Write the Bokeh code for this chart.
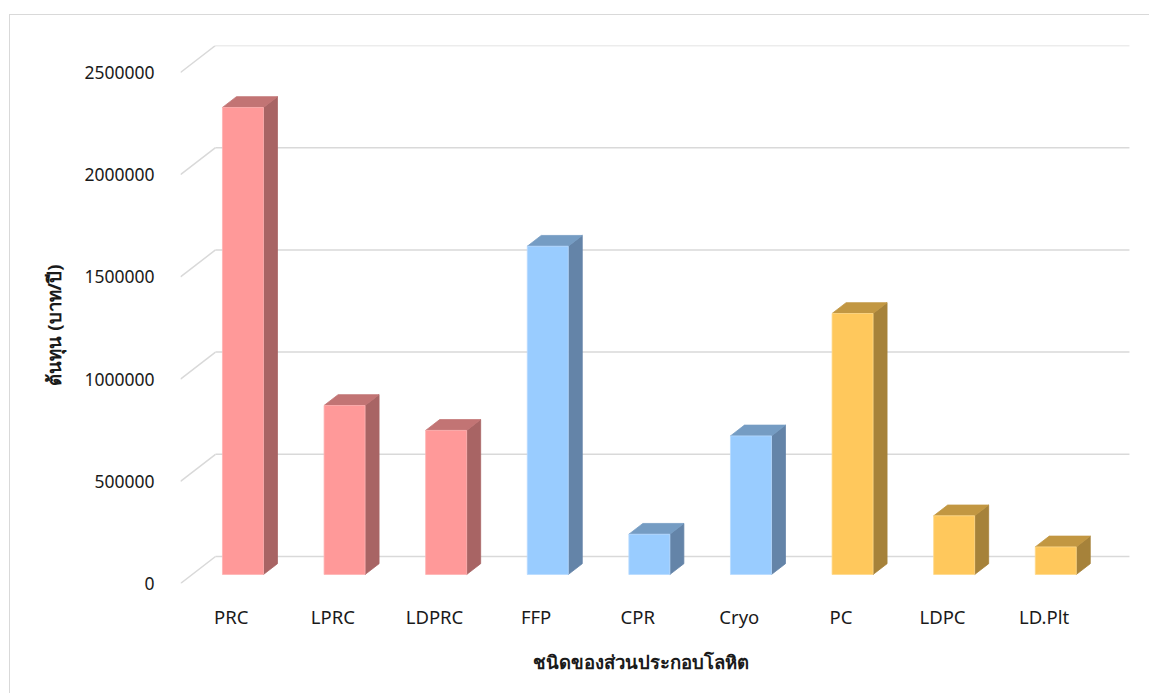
from bokeh.plotting import figure
from bokeh.models import Range1d, FixedTicker, Title
from bokeh.embed import file_html
from bokeh.resources import INLINE

# ---- data ----
categories = ["PRC", "LPRC", "LDPRC", "FFP", "CPR", "Cryo", "PC", "LDPC", "LD.Plt"]
costs = [2285000, 827000, 705000, 1606000, 197000, 678000, 1277000, 287000, 135000]
groups = ["red", "red", "red", "blue", "blue", "blue", "yellow", "yellow", "yellow"]
y_ticks = [0, 500000, 1000000, 1500000, 2000000, 2500000]
y_title = "ต้นทุน (บาท/ปี)"
x_title = "ชนิดของส่วนประกอบโลหิต"

# ---- style ----
palette = {
    "red": ("#FF9999", "#A86464", "#C27474"),
    "blue": ("#99CCFF", "#6484A8", "#759CC3"),
    "yellow": ("#FFC85C", "#A6823A", "#C29742"),
}
edge = {"red": "#FFB3B3", "blue": "#B8DBFF", "yellow": "#FFD98A"}
grid_color = "#D9D9D9"
FONT = "Noto Sans"

# geometry in data units (x: category units, y: value units)
px_x = 101.6
px_y = 511 / 2500000
DX = 35 / px_x          # full floor depth, x
DY = 27 / px_y          # full floor depth, y
W = 41 / px_x           # bar width
D0 = 1 / 3              # bar front depth fraction
DD = 0.4                # bar depth fraction

n = len(categories)
p = figure(width=1139, height=678, output_backend="svg", toolbar_location=None,
           x_range=Range1d(0, 949 / px_x), y_range=Range1d(0, 2500000 + DY),
           min_border_left=170, min_border_right=20, min_border_top=30, min_border_bottom=110)
p.styles = {"margin-left": "10px", "margin-top": "15px", "outline": "1.5px solid #D9D9D9"}
p.outline_line_color = None
p.xgrid.visible = False
p.ygrid.visible = False
p.background_fill_color = "white"
p.border_fill_color = "white"

# gridlines: diagonal + back wall
gx0, gy0, gx1, gy1 = [], [], [], []
for t in y_ticks:
    gx0 += [0, DX]
    gy0 += [t, t + DY]
    gx1 += [DX, n + DX]
    gy1 += [t + DY, t + DY]
p.segment(gx0, gy0, gx1, gy1, line_color=grid_color, line_width=1.5)

# bars
fx, fy, fc, fl = [], [], [], []
for i, (v, g) in enumerate(zip(costs, groups)):
    xc = i + 0.5 + D0 * DX
    yb = D0 * DY
    l, r = xc - W / 2, xc + W / 2
    ddx, ddy = DD * DX, DD * DY
    front, side, top = palette[g]
    fx.append([r, r + ddx, r + ddx, r]); fy.append([yb, yb + ddy, yb + ddy + v, yb + v]); fc.append(side); fl.append(side)
    fx.append([l, r, r + ddx, l + ddx]); fy.append([yb + v, yb + v, yb + v + ddy, yb + v + ddy]); fc.append(top); fl.append(top)
    fx.append([l, r, r, l]); fy.append([yb, yb, yb + v, yb + v]); fc.append(front); fl.append(edge[g])
p.patches(fx, fy, fill_color=fc, line_color=fl, line_width=0.8)

# axes
p.xaxis.ticker = FixedTicker(ticks=[i + 0.5 for i in range(n)])
p.xaxis.major_label_overrides = {i + 0.5: c for i, c in enumerate(categories)}
p.yaxis.ticker = FixedTicker(ticks=y_ticks)
p.yaxis.major_label_overrides = {t: str(t) for t in y_ticks}
for ax in (p.xaxis, p.yaxis):
    ax.axis_line_color = None
    ax.major_tick_line_color = None
    ax.minor_tick_line_color = None
    ax.major_tick_out = 0
    ax.major_tick_in = 0
    ax.major_label_text_font = FONT
    ax.major_label_text_color = "#1a1a1a"
p.xaxis.major_label_text_font_size = "18.5px"
p.yaxis.major_label_text_font_size = "17.5px"
p.xaxis.major_label_standoff = 20
p.yaxis.major_label_standoff = 26

# axis titles (positioned along the axis like the reference)
p.add_layout(Title(text=x_title, align="left", offset=352, vertical_align="top", standoff=34,
                   text_font=FONT, text_font_size="18.5px", text_font_style="bold",
                   text_color="#1a1a1a"), "below")
p.add_layout(Title(text=y_title, align="left", offset=198, vertical_align="bottom", standoff=32,
                   text_font=FONT, text_font_size="18.5px", text_font_style="bold",
                   text_color="#1a1a1a"), "left")

open("out.html", "w").write(file_html(p, INLINE))
